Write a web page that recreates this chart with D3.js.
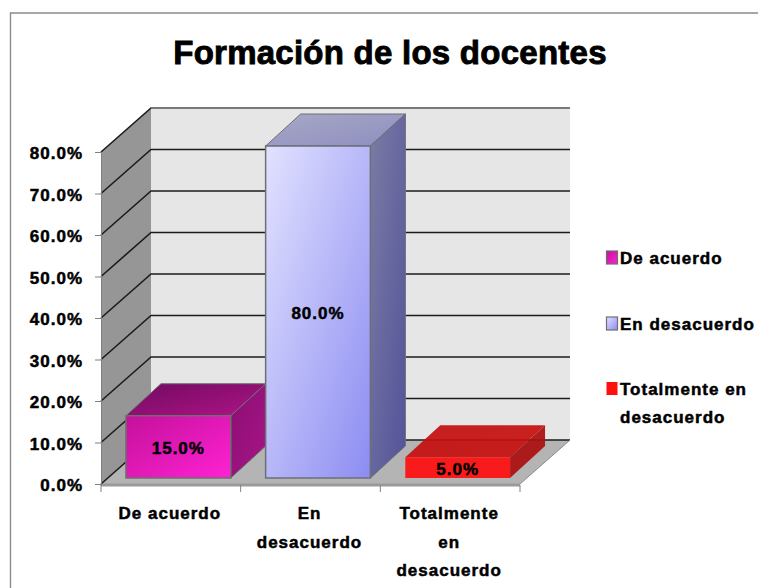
<!DOCTYPE html>
<html>
<head>
<meta charset="utf-8">
<script src="https://d3js.org/d3.v7.min.js"></script>
<style>
body { margin: 0; background: #fff; }
text { font-family: "Liberation Sans", Arial, sans-serif; font-weight: bold; fill: #000; letter-spacing: 1px; stroke: #000; stroke-width: 0.5px; }
</style>
</head>
<body>
<div id="chart-area"></div>
<script>
// Formación de los docentes
var categories = ["De acuerdo", "En desacuerdo", "Totalmente en desacuerdo"];
var values = [15, 80, 5];
var ticks = [0, 10, 20, 30, 40, 50, 60, 70, 80];
var categoryLines = [["De acuerdo"], ["En", "desacuerdo"], ["Totalmente", "en", "desacuerdo"]];
var legendLines = [["De acuerdo"], ["En desacuerdo"], ["Totalmente en", "desacuerdo"]];
var legendY = [258, 324, 389];

var width = 758, height = 588;

// front plane of the box
var plot = { left: 101, right: 520, top: 152, bottom: 484 };
var depth = { x: 50, y: -44 };
var barDepth = { x: 35, y: -32 };
var barInset = { x: 7.5, y: -6 };

var svg = d3.select("#chart-area")
    .append("svg")
    .attr("width", width)
    .attr("height", height)
    .style("display", "block");

var x = d3.scaleBand()
    .domain(categories)
    .range([plot.left, plot.right])
    .paddingInner(0.25)
    .paddingOuter(0.125);

var y = d3.scaleLinear()
    .domain([0, 80])
    .range([plot.bottom, plot.top]);

var defs = svg.append("defs");

function gradient(id, from, to) {
    var g = defs.append("linearGradient")
        .attr("id", id)
        .attr("x1", "0%").attr("y1", "0%")
        .attr("x2", "100%").attr("y2", "100%");
    g.append("stop").attr("offset", "0%").attr("stop-color", from);
    g.append("stop").attr("offset", "100%").attr("stop-color", to);
}

var barColors = [
    { front: ["#c4109a", "#ff22d4"], top: ["#700a60", "#b01488"], side: ["#8a0f72", "#a81488"], stroke: "#6e6e6e", opacity: 1 },
    { front: ["#e2e2ff", "#8c8cf2"], top: ["#a8a8c4", "#8e8ec2"], side: ["#7c7ca4", "#52529a"], stroke: "#6e6e78", opacity: 1 },
    { front: ["#ff0f0f", "#ff0f0f"], top: ["#c40f0f", "#c81010"], side: ["#a80f0f", "#b00f0f"], stroke: "none", opacity: 0.92 }
];

barColors.forEach(function(c, i) {
    gradient("front" + i, c.front[0], c.front[1]);
    gradient("top" + i, c.top[0], c.top[1]);
    gradient("side" + i, c.side[0], c.side[1]);
});

function points(list) {
    return list.map(function(p) { return p.join(","); }).join(" ");
}

// title and outer frame
svg.append("path")
    .attr("d", d3.line()([[10.5, 588], [10.5, 13], [758, 13]]))
    .attr("fill", "none")
    .attr("stroke", "#8c8c8c")
    .attr("stroke-width", 1.4);

svg.append("text")
    .attr("x", 390)
    .attr("y", 64)
    .attr("text-anchor", "middle")
    .attr("font-size", 33)
    .style("letter-spacing", "0.25px")
    .style("stroke-width", "0.9px")
    .text("Formación de los docentes");

// walls
var wall = svg.append("g");

wall.append("polygon")
    .attr("points", points([
        [plot.left + depth.x, plot.top + depth.y], [plot.right + depth.x, plot.top + depth.y],
        [plot.right + depth.x, plot.bottom + depth.y], [plot.left + depth.x, plot.bottom + depth.y]]))
    .attr("fill", "#e6e6e6");

wall.append("polygon")
    .attr("points", points([
        [plot.left, plot.top], [plot.left + depth.x, plot.top + depth.y],
        [plot.left + depth.x, plot.bottom + depth.y], [plot.left, plot.bottom]]))
    .attr("fill", "#969696");

wall.append("polygon")
    .attr("points", points([
        [plot.left, plot.bottom], [plot.left + depth.x, plot.bottom + depth.y],
        [plot.right + depth.x, plot.bottom + depth.y], [plot.right, plot.bottom]]))
    .attr("fill", "#b4b4b4");

// floor lip
wall.append("line")
    .attr("x1", plot.left).attr("x2", plot.right)
    .attr("y1", plot.bottom + 1).attr("y2", plot.bottom + 1)
    .attr("stroke", "#9a9a9a")
    .attr("stroke-width", 3);

// grid lines, along the left wall and across the back
var grid = svg.append("g");

grid.selectAll("path")
    .data(ticks)
    .enter().append("path")
        .attr("d", function(d) {
            return d3.line()([
                [plot.left, y(d)],
                [plot.left + depth.x, y(d) + depth.y],
                [plot.right + depth.x, y(d) + depth.y]]);
        })
        .attr("fill", "none")
        .attr("stroke", "#1c1c1c")
        .attr("stroke-width", 1.6);

grid.append("line")
    .attr("x1", plot.left + depth.x).attr("x2", plot.right + depth.x)
    .attr("y1", plot.top + depth.y).attr("y2", plot.top + depth.y)
    .attr("stroke", "#7a7a7a")
    .attr("stroke-width", 2);

grid.append("line")
    .attr("x1", plot.right + depth.x).attr("x2", plot.right)
    .attr("y1", plot.bottom + depth.y).attr("y2", plot.bottom)
    .attr("stroke", "#8a8a8a");

// y axis
var yAxis = svg.append("g")
    .attr("transform", "translate(" + plot.left + ",0)")
    .call(d3.axisLeft(y)
        .tickValues(ticks)
        .tickSize(6)
        .tickPadding(12)
        .tickFormat(function(d) { return d3.format(".1f")(d) + "%"; }));

yAxis.selectAll("text")
    .attr("font-size", 17)
    .attr("font-family", null)
    .attr("dy", "0.32em")
    .attr("transform", "translate(0,1.5)");
yAxis.selectAll("line").attr("stroke", "#808080");
yAxis.select(".domain").attr("stroke", "#808080").attr("d", "M0.5," + plot.top + "V" + plot.bottom);

// x axis ticks and wrapped labels
var xTicks = x.domain().map(function(d, i) { return plot.left + x.step() * i; }).concat(plot.right);

svg.append("g").selectAll("line")
    .data(xTicks)
    .enter().append("line")
        .attr("x1", function(d) { return d; })
        .attr("x2", function(d) { return d; })
        .attr("y1", plot.bottom + 1)
        .attr("y2", plot.bottom + 8)
        .attr("stroke", "#808080");

svg.append("g").selectAll("text")
    .data(categories)
    .enter().append("text")
        .attr("text-anchor", "middle")
        .attr("font-size", 17)
        .each(function(d, i) {
            d3.select(this).selectAll("tspan")
                .data(categoryLines[i])
                .enter().append("tspan")
                    .attr("x", x(d) + x.bandwidth() / 2 - 1)
                    .attr("y", function(l, j) { return 519 + j * 28.5; })
                    .text(function(l) { return l; });
        });

// bars
var bars = svg.append("g").selectAll("g")
    .data(values)
    .enter().append("g");

bars.each(function(d, i) {
    var g = d3.select(this);
    var c = barColors[i];
    var x0 = x(categories[i]) + barInset.x;
    var x1 = x0 + x.bandwidth();
    var yBase = y(0) + barInset.y;
    var yTop = y(d) + barInset.y;

    var box = g.append("g").attr("opacity", c.opacity);

    box.append("polygon")
        .attr("points", points([[x0, yTop], [x0 + barDepth.x, yTop + barDepth.y], [x1 + barDepth.x, yTop + barDepth.y], [x1, yTop]]))
        .attr("fill", "url(#top" + i + ")")
        .attr("stroke", c.stroke);

    box.append("polygon")
        .attr("points", points([[x1, yTop], [x1 + barDepth.x, yTop + barDepth.y], [x1 + barDepth.x, yBase + barDepth.y], [x1, yBase]]))
        .attr("fill", "url(#side" + i + ")")
        .attr("stroke", c.stroke);

    box.append("rect")
        .attr("x", x0)
        .attr("y", yTop)
        .attr("width", x.bandwidth())
        .attr("height", yBase - yTop)
        .attr("fill", "url(#front" + i + ")")
        .attr("stroke", c.stroke)
        .attr("stroke-width", 1.5);

    g.append("text")
        .attr("x", (x0 + x1) / 2)
        .attr("y", (yTop + yBase) / 2 + 7)
        .attr("text-anchor", "middle")
        .attr("font-size", 17)
        .text(d3.format(".1f")(d) + "%");
});

// legend
var legend = svg.append("g").selectAll("g")
    .data(categories)
    .enter().append("g")
        .attr("transform", function(d, i) { return "translate(606," + legendY[i] + ")"; });

legend.append("rect")
    .attr("x", 0.5)
    .attr("y", -7)
    .attr("width", 11)
    .attr("height", 13)
    .attr("fill", function(d, i) { return "url(#front" + i + ")"; })
    .attr("stroke", function(d, i) { return barColors[i].stroke; })
    .attr("stroke-width", 1.2);

legend.append("text")
    .attr("font-size", 17)
    .each(function(d, i) {
        d3.select(this).selectAll("tspan")
            .data(legendLines[i])
            .enter().append("tspan")
                .attr("x", 14)
                .attr("y", function(l, j) { return 6 + j * 28; })
                .text(function(l) { return l; });
    });
</script>
</body>
</html>
